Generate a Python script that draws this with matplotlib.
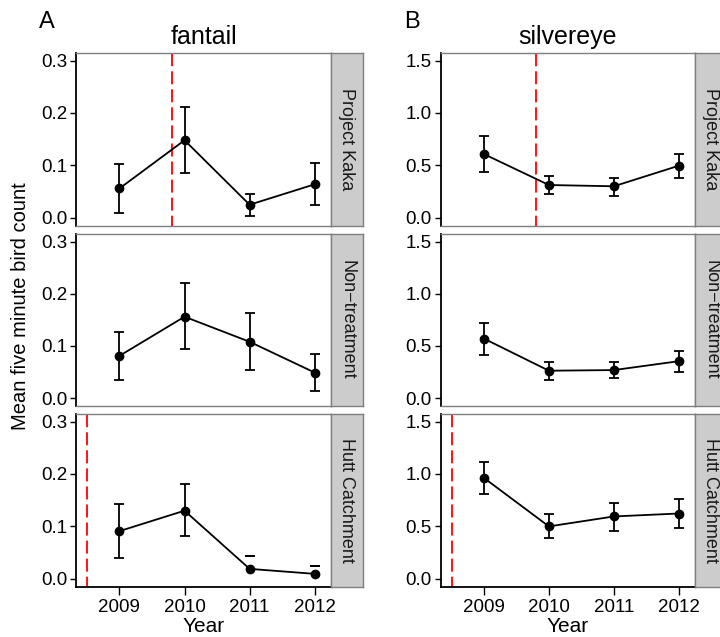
import numpy as np
import matplotlib
matplotlib.use("Agg")
import matplotlib.pyplot as plt

plt.rcParams['font.family'] = ['Liberation Sans', 'DejaVu Sans']

years = [2009, 2010, 2011, 2012]
species = ["fantail", "silvereye"]
panel_letters = ["A", "B"]
sites = ["Project Kaka", "Non\u2212treatment", "Hutt Catchment"]

# fantail means and error bar limits per site
fantail_mean = {
    "Project Kaka": [0.056, 0.148, 0.025, 0.064],
    "Non\u2212treatment": [0.081, 0.156, 0.108, 0.049],
    "Hutt Catchment": [0.091, 0.130, 0.019, 0.0095],
}
fantail_upper = {
    "Project Kaka": [0.102, 0.211, 0.046, 0.104],
    "Non\u2212treatment": [0.127, 0.220, 0.163, 0.085],
    "Hutt Catchment": [0.142, 0.181, 0.044, 0.025],
}
fantail_lower = {
    "Project Kaka": [0.0095, 0.086, 0.003, 0.025],
    "Non\u2212treatment": [0.035, 0.094, 0.054, 0.014],
    "Hutt Catchment": [0.039, 0.081, np.nan, np.nan],
}
silvereye_mean = {
    "Project Kaka": [0.608, 0.313, 0.301, 0.497],
    "Non\u2212treatment": [0.570, 0.263, 0.269, 0.354],
    "Hutt Catchment": [0.962, 0.500, 0.595, 0.623],
}
silvereye_upper = {
    "Project Kaka": [0.782, 0.399, 0.383, 0.611],
    "Non\u2212treatment": [0.718, 0.345, 0.342, 0.449],
    "Hutt Catchment": [1.117, 0.614, 0.728, 0.759],
}
silvereye_lower = {
    "Project Kaka": [0.437, 0.228, 0.209, 0.377],
    "Non\u2212treatment": [0.415, 0.177, 0.196, 0.253],
    "Hutt Catchment": [0.807, 0.386, 0.459, 0.487],
}
# treatment start (red dashed line) per site
treatment_year = {"Project Kaka": 2009.8, "Non\u2212treatment": None, "Hutt Catchment": 2008.5}

fantail_yticks = [0.0, 0.1, 0.2, 0.3]
silvereye_yticks = [0.0, 0.5, 1.0, 1.5]

data = {
    "fantail": (fantail_mean, fantail_upper, fantail_lower, fantail_yticks),
    "silvereye": (silvereye_mean, silvereye_upper, silvereye_lower, silvereye_yticks),
}

W, H = 720, 637
fig = plt.figure(figsize=(W / 100, H / 100), dpi=100)

col_x = [(76, 331, 363), (440.7, 695, 727)]
row_y = [(52.7, 225.7), (233.7, 406.0), (413.7, 586.7)]

def rect(x0, x1, y0, y1):
    return [x0 / W, 1 - y1 / H, (x1 - x0) / W, (y1 - y0) / H]

border = "#7f7f7f"
tick_fs = 13.5
for ci, sp in enumerate(species):
    mean, upper, lower, yticks = data[sp]
    x0, x1, xs = col_x[ci]
    ymax = yticks[-1]
    pad = 0.05 * ymax
    for ri, site in enumerate(sites):
        y0, y1 = row_y[ri]
        ax = fig.add_axes(rect(x0, x1, y0, y1))
        m = np.array(mean[site]); up = np.array(upper[site]); lo = np.array(lower[site])
        ax.plot(years, m, color="black", lw=1.3, zorder=3)
        ax.plot(years, m, "o", color="black", ms=6, zorder=4)
        full = ~np.isnan(lo)
        yr = np.array(years)
        ax.errorbar(yr[full], m[full], yerr=[m[full] - lo[full], up[full] - m[full]],
                    fmt="none", ecolor="black", elinewidth=1.3, capsize=3.4, capthick=1.3, zorder=2)
        if (~full).any():
            ax.errorbar(yr[~full], up[~full], yerr=0, fmt="none", ecolor="black",
                        elinewidth=1.3, capsize=3.4, capthick=1.3, zorder=2)
        if treatment_year[site] is not None:
            ax.axvline(treatment_year[site], color="#ff0000", lw=1.3,
                       linestyle=(1.5, (7.2, 2.8)), zorder=1)
        ax.set_xlim(2008.333, 2012.25)
        ax.set_ylim(-pad, ymax + pad)
        ax.set_yticks(yticks)
        ax.set_yticklabels([f"{v:.1f}" for v in yticks], fontsize=tick_fs)
        ax.set_xticks(years)
        if ri == 2:
            ax.set_xticklabels([str(y) for y in years], fontsize=tick_fs)
            ax.tick_params(axis="x", length=6, width=1, colors="black", pad=3)
        else:
            ax.tick_params(axis="x", length=0, labelbottom=False)
        ax.tick_params(axis="y", length=4.3, width=1, colors="black", pad=2)
        for s in ["top", "right"]:
            ax.spines[s].set_color(border)
            ax.spines[s].set_linewidth(1)
        ax.spines["left"].set_color("black")
        ax.spines["left"].set_linewidth(1.3)
        ax.spines["bottom"].set_color("black" if ri == 2 else border)
        ax.spines["bottom"].set_linewidth(1.3 if ri == 2 else 1)
        # strip
        sx = fig.add_axes(rect(x1, xs, y0, y1))
        sx.set_facecolor("#cccccc")
        sx.set_xticks([]); sx.set_yticks([])
        for s in sx.spines.values():
            s.set_color(border); s.set_linewidth(1)
        sx.text(0.5, 0.5, site, rotation=-90, ha="center", va="center",
                fontsize=13, color="#1a1a1a", transform=sx.transAxes)
        if ri == 2:
            fig.text(((x0 + x1) / 2) / W, 1 - 627 / H, "Year", ha="center", va="center", fontsize=15)
    fig.text(((x0 + x1) / 2) / W, 1 - 37 / H, sp, ha="center", va="center", fontsize=18)
    fig.text((x0 - 37) / W, 1 - 22 / H, panel_letters[ci], ha="left", va="center", fontsize=17)

fig.text(21 / W, 1 - 306 / H, "Mean five minute bird count", rotation=90, ha="center", va="center", fontsize=14.5)

fig.savefig("out.png", dpi=100)
